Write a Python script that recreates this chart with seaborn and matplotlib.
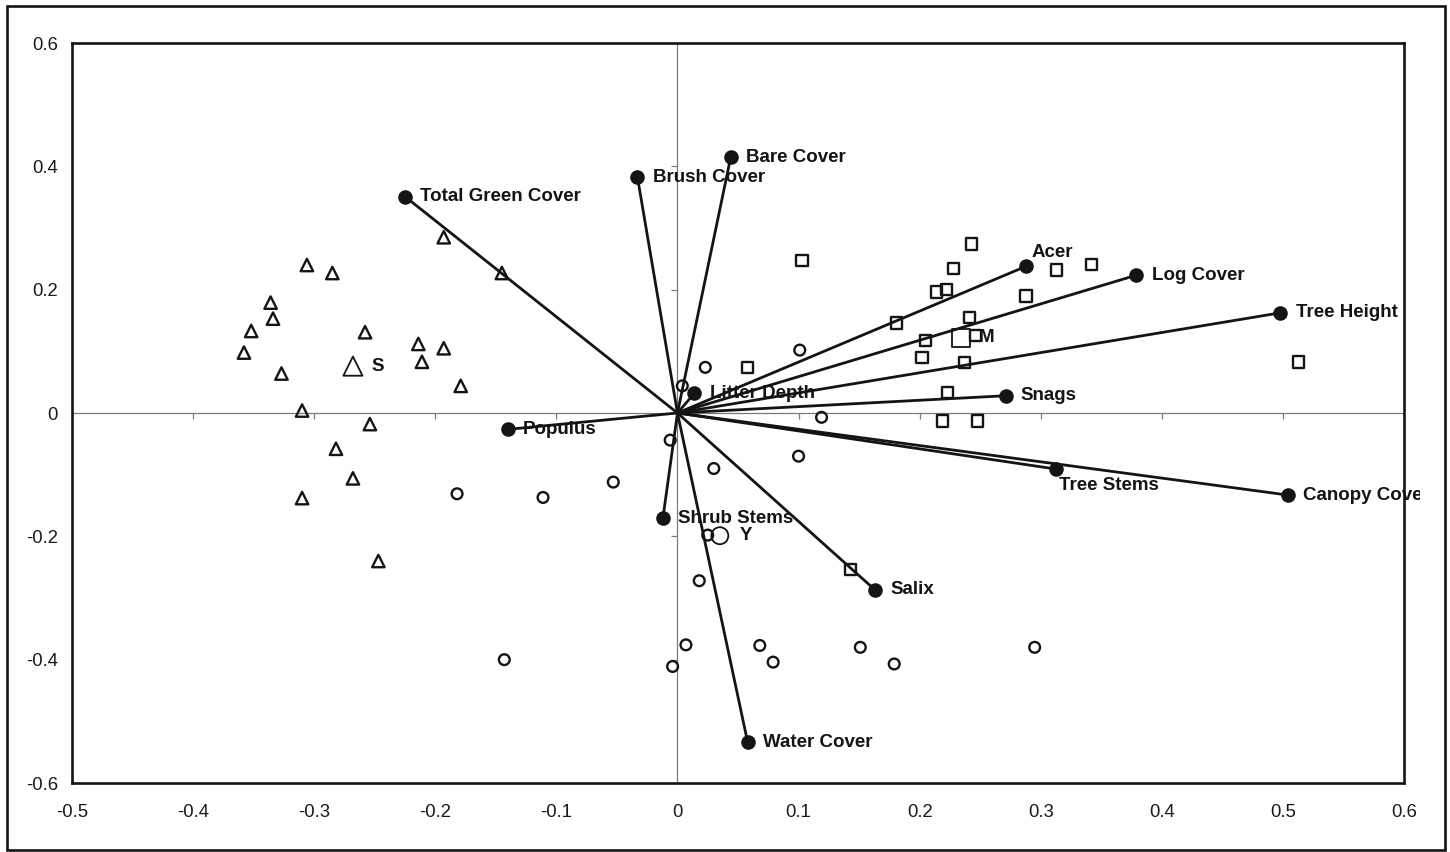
import matplotlib
matplotlib.use('Agg')
import matplotlib.pyplot as plt
from matplotlib.markers import TICKDOWN, TICKLEFT
from matplotlib.patches import Rectangle
import seaborn as sns
import numpy as np

# vector endpoints (habitat variables)
var_names = ['Total Green Cover', 'Brush Cover', 'Bare Cover', 'Litter Depth', 'Acer',
             'Log Cover', 'Tree Height', 'Snags', 'Tree Stems', 'Canopy Cover',
             'Populus', 'Shrub Stems', 'Salix', 'Water Cover']
var_x = [-0.225, -0.033, 0.044, 0.014, 0.288, 0.379, 0.498, 0.271, 0.313, 0.504,
         -0.140, -0.012, 0.163, 0.058]
var_y = [0.351, 0.382, 0.415, 0.032, 0.238, 0.2235, 0.1625, 0.028, -0.091, -0.133,
         -0.0265, -0.1705, -0.2866, -0.534]

# sites: triangles (S)
tri_x = [-0.193, -0.306, -0.285, -0.336, -0.334, -0.352, -0.358, -0.258, -0.214, -0.193,
         -0.211, -0.327, -0.179, -0.310, -0.145, -0.254, -0.282, -0.268, -0.310, -0.247]
tri_y = [0.285, 0.240, 0.227, 0.179, 0.153, 0.133, 0.098, 0.131, 0.112, 0.105,
         0.083, 0.064, 0.044, 0.004, 0.227, -0.018, -0.058, -0.106, -0.138, -0.240]

# sites: squares (M)
sq_x = [0.058, 0.103, 0.181, 0.214, 0.222, 0.228, 0.243, 0.313, 0.342, 0.288,
        0.241, 0.205, 0.246, 0.202, 0.237, 0.513, 0.223, 0.219, 0.248, 0.143]
sq_y = [0.074, 0.247, 0.146, 0.196, 0.200, 0.234, 0.274, 0.232, 0.241, 0.190,
        0.155, 0.118, 0.126, 0.090, 0.082, 0.083, 0.033, -0.013, -0.013, -0.254]

# sites: circles (Y)
circ_x = [0.004, 0.023, 0.101, -0.006, 0.119, 0.100, 0.030, -0.053, -0.111, -0.182,
          0.025, 0.018, 0.007, 0.068, -0.004, 0.079, 0.151, 0.179, 0.295, -0.143]
circ_y = [0.044, 0.074, 0.102, -0.044, -0.007, -0.070, -0.090, -0.112, -0.137, -0.131,
          -0.198, -0.272, -0.376, -0.377, -0.411, -0.404, -0.380, -0.407, -0.380, -0.400]

# group centroids
cent_names = ['S', 'M', 'Y']
cent_x = [-0.268, 0.234, 0.035]
cent_y = [0.076, 0.122, -0.199]

xticks = [-0.5, -0.4, -0.3, -0.2, -0.1, 0, 0.1, 0.2, 0.3, 0.4, 0.5, 0.6]
yticks = [-0.6, -0.4, -0.2, 0, 0.2, 0.4, 0.6]

sns.set_theme(style='white')
plt.rcParams['font.family'] = ['Liberation Sans', 'DejaVu Sans']

ink = '#141414'

fig = plt.figure(figsize=(14.5, 8.52), dpi=100)
ax = fig.add_axes([72 / 1450, 1 - 783 / 852, (1404 - 72) / 1450, (783 - 43) / 852])

# zero lines with their own small ticks
ax.axhline(0, color='#7a7a7a', lw=0.9, zorder=1)
ax.axvline(0, color='#7a7a7a', lw=0.9, zorder=1)
ax.plot([t for t in xticks[1:-1]], [0] * len(xticks[1:-1]), ls='none', marker=TICKDOWN,
        ms=4, mew=0.9, color='#7a7a7a', zorder=1)
ax.plot([0] * len(yticks[1:-1]), [t for t in yticks[1:-1]], ls='none', marker=TICKLEFT,
        ms=4, mew=0.9, color='#7a7a7a', zorder=1)

# site markers
sns.scatterplot(x=tri_x, y=tri_y, marker='^', s=80, facecolors='none', edgecolor=ink,
                linewidth=1.7, ax=ax, zorder=2)
sns.scatterplot(x=sq_x, y=sq_y, marker='s', s=68, facecolors='none', edgecolor=ink,
                linewidth=1.7, ax=ax, zorder=2)
sns.scatterplot(x=circ_x, y=circ_y, marker='o', s=60, facecolors='none', edgecolor=ink,
                linewidth=1.7, ax=ax, zorder=2)

# centroids
cent_markers = ['^', 's', 'o']
cent_sizes = [190, 170, 150]
for cx, cy, m, s in zip(cent_x, cent_y, cent_markers, cent_sizes):
    ax.scatter([cx], [cy], marker=m, s=s, facecolors='none', edgecolors=ink,
               linewidths=1.3, zorder=2)
cent_off = [13, 13, 14]
for name, cx, cy, off in zip(cent_names, cent_x, cent_y, cent_off):
    ax.annotate(name, (cx, cy), xytext=(off, 0), textcoords='offset points',
                ha='left', va='center', fontsize=13.5, fontweight='bold', color=ink)

# vectors
for vx, vy in zip(var_x, var_y):
    ax.plot([0, vx], [0, vy], color=ink, lw=2.0, solid_capstyle='round', zorder=3)
sns.scatterplot(x=var_x, y=var_y, marker='o', s=110, color=ink, edgecolor=ink,
                linewidth=0, ax=ax, zorder=4)

# variable labels
offsets = {'Acer': (4, 10), 'Tree Stems': (2, -11.5)}
clip = Rectangle((0, 0), 1.012, 1, transform=ax.transAxes)
for name, vx, vy in zip(var_names, var_x, var_y):
    dx, dy = offsets.get(name, (11, 0))
    t = ax.annotate(name, (vx, vy), xytext=(dx, dy), textcoords='offset points',
                    ha='left', va='center', fontsize=13.5, fontweight='bold', color=ink,
                    zorder=5)
    t.set_clip_path(clip)

ax.set_xlim(-0.5, 0.6)
ax.set_ylim(-0.6, 0.6)
ax.set_xticks(xticks)
ax.set_yticks(yticks)
ax.set_xticklabels([f'{t:g}' for t in xticks])
ax.set_yticklabels([f'{t:g}' for t in yticks])
ax.tick_params(axis='x', length=0, pad=15, labelsize=13.3, labelcolor='#1a1a1a')
ax.tick_params(axis='y', length=0, pad=10, labelsize=13.3, labelcolor='#1a1a1a')
ax.set_xlabel('')
ax.set_ylabel('')
for sp in ax.spines.values():
    sp.set_visible(True)
    sp.set_color(ink)
    sp.set_linewidth(1.9)

# outer border round the figure
fig.patches.append(Rectangle((7 / 1450, 2 / 852), 1438 / 1450, 844 / 852,
                             transform=fig.transFigure, fill=False, edgecolor=ink,
                             lw=1.9, zorder=10))

fig.savefig('out.png', dpi=100)
